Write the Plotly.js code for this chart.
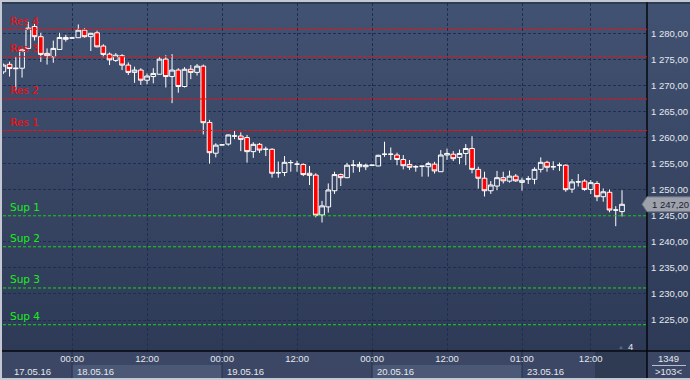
<!DOCTYPE html>
<html>
<head>
<meta charset="utf-8">
<script src="https://cdn.plot.ly/plotly-3.0.1.min.js"></script>
<style>
  html, body { margin: 0; padding: 0; background: #2e3a55; }
  #wrap { position: relative; width: 690px; height: 380px; overflow: hidden;
          background: linear-gradient(to bottom, #425272 0%, #2c3854 100%); }
  #chart { position: absolute; left: 0; top: 0; width: 690px; height: 380px; }
  #frame { position: absolute; left: 0; top: 0; width: 690px; height: 380px; box-sizing: border-box;
           border-top: 2px solid #c3c8d3; border-left: 2px solid #c3c8d3; border-bottom: 2px solid #c3c8d3;
           pointer-events: none; }
</style>
</head>
<body>
<div id="wrap"><div id="chart"></div><div id="frame"></div></div>
<script>
// ---- data (hourly candles, index = bar slot) ----
const candleOpen  = [1272.6,1274.05,1273.2,1273.3,1277.1,1281.3,1279.35,1276.15,1275.5,1276.9,
  1279.2,1279.1,1279.15,1280.6,1279.35,1280.1,1277.55,1276.0,1274.8,1275.7,
  1273.9,1272.5,1272.95,1271.0,1271.7,1272.15,1275.05,1271.7,1272.95,1269.8,
  1273.1,1272.5,1273.7,1262.9,1257.0,1258.6,1258.75,1260.3,1260.3,1260.0,
  1257.3,1258.7,1257.75,1257.75,1253.25,1253.3,1255.2,1254.9,1254.85,1253.15,
  1252.8,1245.15,1246.7,1249.8,1252.9,1252.3,1254.7,1254.4,1254.4,1254.7,
  1254.55,1256.8,1256.8,1256.65,1255.8,1254.85,1254.4,1254.5,1254.4,1254.9,
  1253.45,1256.65,1256.8,1256.2,1256.95,1257.9,1253.9,1252.2,1249.8,1250.7,
  1252.3,1251.65,1252.6,1251.4,1252.05,1252.0,1253.9,1255.25,1254.4,1254.7,
  1254.7,1250.1,1251.5,1251.65,1250.05,1251.2,1248.65,1249.5,1246.1,1245.8];
const candleHigh  = [1274.2,1274.55,1275.5,1277.1,1282.2,1281.8,1280.1,1277.1,1278.6,1280.1,
  1279.7,1279.2,1281.7,1281.0,1280.1,1280.5,1277.9,1276.3,1276.2,1276.0,
  1274.4,1273.6,1273.3,1272.3,1273.3,1275.5,1275.8,1276.0,1273.3,1273.5,
  1273.9,1274.1,1274.0,1263.4,1258.9,1258.65,1260.6,1261.3,1261.0,1260.5,
  1259.1,1258.95,1258.25,1257.95,1255.4,1256.45,1255.7,1255.55,1255.05,1254.55,
  1253.15,1247.85,1251.2,1253.45,1253.1,1255.15,1255.7,1255.35,1255.0,1254.75,
  1256.7,1259.2,1258.1,1257.1,1256.65,1255.7,1254.7,1254.6,1255.35,1255.35,
  1257.6,1257.9,1257.4,1257.7,1258.75,1260.25,1254.4,1253.45,1251.65,1253.6,
  1253.45,1253.65,1253.0,1252.3,1252.6,1254.3,1256.2,1255.55,1255.45,1255.2,
  1254.85,1252.05,1253.0,1252.0,1251.85,1251.65,1250.25,1250.05,1246.85,1249.9];
const candleLow   = [1272.2,1271.7,1269.1,1271.5,1277.0,1278.6,1274.5,1274.0,1274.35,1276.8,
  1278.4,1279.0,1279.1,1279.15,1276.6,1277.3,1275.4,1273.9,1274.5,1272.95,
  1272.0,1270.5,1270.1,1270.2,1270.4,1272.1,1269.6,1266.6,1268.6,1269.6,
  1271.2,1271.9,1260.6,1255.0,1256.2,1258.55,1258.45,1259.7,1257.4,1255.2,
  1256.1,1257.05,1256.45,1252.3,1252.3,1252.6,1253.45,1253.45,1252.6,1250.9,
  1244.7,1243.7,1245.6,1249.2,1250.7,1252.2,1253.25,1253.4,1253.75,1254.65,
  1254.5,1256.3,1255.7,1254.7,1253.9,1253.8,1253.45,1252.5,1252.5,1253.1,
  1253.4,1255.7,1255.5,1254.9,1254.7,1253.15,1250.2,1248.7,1249.2,1249.9,
  1251.2,1251.35,1251.5,1249.8,1251.1,1251.05,1253.3,1253.45,1253.75,1253.6,
  1249.6,1249.4,1250.6,1249.8,1249.15,1247.8,1247.7,1245.65,1243.0,1244.85];
const candleClose = [1273.9,1273.25,1273.3,1276.8,1281.0,1279.35,1275.95,1275.7,1277.1,1279.2,
  1278.85,1279.1,1280.6,1279.35,1280.0,1277.4,1275.95,1274.9,1275.8,1273.9,
  1272.5,1272.95,1271.0,1271.8,1272.3,1275.05,1271.7,1272.95,1269.8,1273.1,
  1272.5,1273.7,1262.85,1257.1,1258.55,1258.6,1260.5,1260.3,1259.65,1257.3,
  1258.7,1257.6,1257.75,1253.15,1253.25,1255.25,1255.2,1254.9,1252.9,1252.75,
  1245.1,1246.9,1249.95,1252.9,1252.3,1254.7,1254.7,1254.85,1254.7,1254.7,
  1256.6,1256.8,1256.8,1255.8,1254.6,1254.3,1254.4,1254.5,1255.0,1253.6,
  1256.65,1256.95,1255.95,1256.95,1257.9,1253.9,1252.2,1249.8,1250.9,1252.3,
  1251.7,1252.6,1251.7,1251.8,1252.05,1253.9,1255.25,1254.3,1254.4,1254.7,
  1250.0,1251.5,1251.5,1250.05,1251.35,1248.65,1249.6,1246.1,1246.1,1247.2];
const barSlot = candleClose.map((_, i) => i);

const resNames  = ["Res 4", "Res 3", "Res 2", "Res 1"];
const resLevels = [1280.77, 1275.5, 1267.4, 1261.35];
const supNames  = ["Sup 1", "Sup 2", "Sup 3", "Sup 4"];
const supLevels = [1245.0, 1239.05, 1231.15, 1224.1];

const timeTickSlots = [11, 23, 35, 47, 59, 71, 83, 94];
const timeTickText  = ["00:00", "12:00", "00:00", "12:00", "00:00", "12:00", "01:00", "12:00"];
const dayLabels     = ["17.05.16", "18.05.16", "19.05.16", "20.05.16", "23.05.16"];
const dayStartSlots = [0, 11, 35, 59, 83];
const priceTicks    = [1225, 1230, 1235, 1240, 1245, 1250, 1255, 1260, 1265, 1270, 1275, 1280];
const lastPrice     = candleClose[candleClose.length - 1];
const barsCount     = "1349";
const shiftText     = ">103<";

function fmt(v) {
  const s = v.toFixed(2).replace('.', ',');
  const [ip, dp] = s.split(',');
  return ip.replace(/\B(?=(\d{3})+(?!\d))/g, ' ') + ',' + dp;
}

// ---- geometry of the figure ----
const W = 690, H = 380, mL = 3, mR = 43, mT = 3, mB = 29;
const pw = W - mL - mR, ph = H - mT - mB;
const px2paperX = p => (p - mL) / pw;
const py2paperY = p => (H - mB - p) / ph;

const FONT = 'Liberation Sans, Arial, sans-serif';
const LBL = 'DejaVu Sans, Verdana, sans-serif';

const trace = {
  type: 'candlestick',
  x: barSlot, open: candleOpen, high: candleHigh, low: candleLow, close: candleClose,
  increasing: { line: { color: '#ffffff', width: 1 }, fillcolor: 'rgba(0,0,0,0)' },
  decreasing: { line: { color: '#ffffff', width: 1 }, fillcolor: '#ff0000' },
  whiskerwidth: 0, hoverinfo: 'none', showlegend: false
};

const shapes = [];
const annotations = [];

// bottom strip background
shapes.push({ type: 'rect', xref: 'paper', yref: 'paper', layer: 'below',
  x0: px2paperX(0), x1: px2paperX(W), y0: py2paperY(351), y1: py2paperY(H),
  fillcolor: '#3b4764', line: { width: 0 } });
// lighter day boxes (alternate days)
for (let i = 1; i < dayStartSlots.length - 1; i += 2) {
  shapes.push({ type: 'rect', xref: 'x', yref: 'paper', layer: 'below',
    x0: dayStartSlots[i], x1: dayStartSlots[i + 1], y0: py2paperY(365), y1: py2paperY(378),
    fillcolor: '#4b5876', line: { width: 0 } });
}
// day boundary lines in strip
for (let i = 1; i < dayStartSlots.length; i++) {
  shapes.push({ type: 'line', xref: 'x', yref: 'paper', layer: 'below',
    x0: dayStartSlots[i], x1: dayStartSlots[i], y0: py2paperY(351), y1: py2paperY(378),
    line: { color: '#27314a', width: 1 } });
}
// dark scroll area at right of strip
shapes.push({ type: 'rect', xref: 'paper', yref: 'paper', layer: 'below',
  x0: px2paperX(595), x1: 1, y0: py2paperY(352), y1: py2paperY(378),
  fillcolor: '#2f3a53', line: { width: 0 } });
// separators
shapes.push({ type: 'line', xref: 'paper', yref: 'paper', x0: px2paperX(0), x1: px2paperX(W), y0: 0, y1: 0,
  line: { color: '#05070c', width: 1.5 } });
shapes.push({ type: 'line', xref: 'paper', yref: 'paper', x0: 1, x1: 1, y0: py2paperY(2), y1: py2paperY(H),
  line: { color: '#05070c', width: 1.5 } });
shapes.push({ type: 'line', xref: 'paper', yref: 'paper', x0: px2paperX(2), x1: px2paperX(W), y0: 1, y1: 1,
  line: { color: '#1a2438', width: 1 } });
// corner divider
shapes.push({ type: 'line', xref: 'paper', yref: 'paper', x0: px2paperX(652), x1: px2paperX(686),
  y0: py2paperY(365.5), y1: py2paperY(365.5), line: { color: '#b8bfcc', width: 1 } });

// resistance / support levels
resLevels.forEach((v, i) => {
  shapes.push({ type: 'line', xref: 'paper', yref: 'y', x0: 0, x1: 1, y0: v, y1: v,
    line: { color: '#e81414', width: 1, dash: '4px,1px' } });
  annotations.push({ xref: 'paper', yref: 'y', x: px2paperX(7.5), y: v, xanchor: 'left', yanchor: 'middle',
    yshift: 8.5, text: resNames[i], showarrow: false, font: { family: LBL, size: 10.5, color: '#ff0a0a' } });
});
supLevels.forEach((v, i) => {
  shapes.push({ type: 'line', xref: 'paper', yref: 'y', x0: 0, x1: 1, y0: v, y1: v,
    line: { color: '#14d814', width: 1, dash: '3px,2px' } });
  annotations.push({ xref: 'paper', yref: 'y', x: px2paperX(7.5), y: v, xanchor: 'left', yanchor: 'middle',
    yshift: 8.5, text: supNames[i], showarrow: false, font: { family: LBL, size: 10.5, color: '#1aee1a' } });
});

// day labels
dayLabels.forEach((t, i) => {
  annotations.push({ xref: 'x', yref: 'paper', x: dayStartSlots[i], y: py2paperY(371), xanchor: 'left',
    yanchor: 'middle', xshift: i === 0 ? 9 : 3, text: t, showarrow: false,
    font: { family: FONT, size: 9.5, color: '#e4e8ef' } });
});

// current price tag
shapes.push({ type: 'path', xref: 'paper', yref: 'y', xsizemode: 'pixel', ysizemode: 'pixel',
  xanchor: 1, yanchor: lastPrice,
  path: 'M -5,0 L 0,7.5 L 44,7.5 L 44,-7.5 L 0,-7.5 Z',
  fillcolor: '#9ca1ab', line: { color: '#6d727c', width: 1 } });
annotations.push({ xref: 'paper', yref: 'y', x: px2paperX(650), y: lastPrice, xanchor: 'left', yanchor: 'middle',
  text: fmt(lastPrice), showarrow: false, font: { family: FONT, size: 9.5, color: '#1e2230' } });

// corner texts
annotations.push({ xref: 'paper', yref: 'paper', x: px2paperX(668), y: py2paperY(358.5), xanchor: 'center',
  yanchor: 'middle', text: barsCount, showarrow: false, font: { family: FONT, size: 9.5, color: '#e4e8ef' } });
annotations.push({ xref: 'paper', yref: 'paper', x: px2paperX(668), y: py2paperY(371.5), xanchor: 'center',
  yanchor: 'middle', text: shiftText, showarrow: false, font: { family: FONT, size: 9.5, color: '#e4e8ef' } });
annotations.push({ xref: 'paper', yref: 'paper', x: px2paperX(630), y: py2paperY(346), xanchor: 'center',
  yanchor: 'middle', text: '4', showarrow: false, font: { family: FONT, size: 9.5, color: '#e4e8ef' } });
annotations.push({ xref: 'paper', yref: 'paper', x: px2paperX(621), y: py2paperY(347), xanchor: 'center',
  yanchor: 'middle', text: '▲', showarrow: false, font: { family: FONT, size: 6, color: '#5d6880' } });

const layout = {
  width: W, height: H,
  margin: { l: mL, r: mR, t: mT, b: mB, pad: 0 },
  paper_bgcolor: 'rgba(0,0,0,0)', plot_bgcolor: 'rgba(0,0,0,0)',
  showlegend: false, dragmode: false,
  boxgap: 0.25, boxgroupgap: 0,
  xaxis: {
    type: 'linear', range: [-0.05, 103.0], fixedrange: true,
    tickmode: 'array', tickvals: timeTickSlots, ticktext: timeTickText,
    showgrid: true, gridcolor: '#1d2f50', griddash: '3px,2px', gridwidth: 1,
    zeroline: false, showline: false, ticks: '',
    tickfont: { family: FONT, size: 9.5, color: '#e4e8ef' },
    rangeslider: { visible: false }
  },
  yaxis: {
    side: 'right', range: [1219.06, 1285.81], fixedrange: true,
    tickmode: 'array', tickvals: priceTicks, ticktext: priceTicks.map(fmt),
    showgrid: true, gridcolor: '#1d2f50', griddash: '3px,2px', gridwidth: 1,
    zeroline: false, showline: false, ticks: '', ticklabelstandoff: 3,
    tickfont: { family: FONT, size: 9.5, color: '#e4e8ef' }
  },
  shapes: shapes,
  annotations: annotations
};

Plotly.newPlot('chart', [trace], layout, { staticPlot: true, displayModeBar: false });
</script>
</body>
</html>
